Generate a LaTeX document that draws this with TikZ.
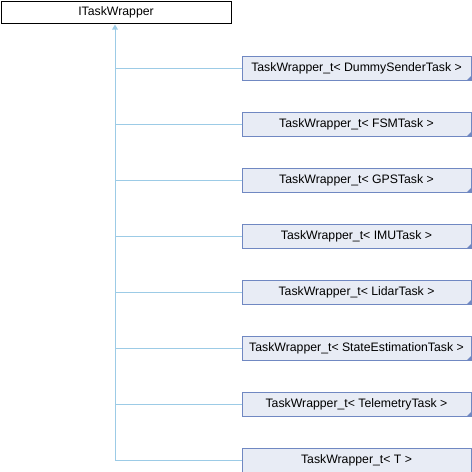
\documentclass[tikz,border=0pt]{standalone}
\usepackage{fontspec}
\setmainfont{Liberation Sans}
\definecolor{boxfill}{HTML}{E8ECF5}
\definecolor{boxline}{HTML}{7088C2}
\definecolor{edgecol}{HTML}{9CCBE6}
\begin{document}
\begin{tikzpicture}[x=0.75pt,y=-0.75pt,
  base/.style={draw=black,fill=white,line width=0.75pt,minimum width=230*0.75pt,minimum height=22.5*0.75pt,inner sep=0pt,font=\fontsize{9.2}{10}\selectfont,anchor=north west},
  child/.style={draw=boxline,fill=boxfill,line width=0.75pt,minimum width=229*0.75pt,minimum height=23.5*0.75pt,inner sep=0pt,font=\fontsize{9.2}{10}\selectfont,anchor=north west},
  edge/.style={draw=edgecol,line width=0.75pt},
  corner/.style={fill=boxline,draw=none}]
\useasboundingbox (0,0) rectangle (472,472);
\node[base] (root) at (0.5,0.5) {ITaskWrapper};
\foreach \i/\lab in {0/{TaskWrapper\_t< DummySenderTask >},1/{TaskWrapper\_t< FSMTask >},2/{TaskWrapper\_t< GPSTask >},3/{TaskWrapper\_t< IMUTask >},4/{TaskWrapper\_t< LidarTask >},5/{TaskWrapper\_t< StateEstimationTask >},6/{TaskWrapper\_t< TelemetryTask >},7/{TaskWrapper\_t< T >}}{
  \node[child] (c\i) at (241.5,56+56*\i) {\lab};
}
\foreach \i in {0,...,6}{
  \fill[corner] (c\i.south east) -- ++(0,-5) -- ++(-5,5) -- cycle;
}
\coordinate (trunk) at (root.south -| 115,0);
\coordinate (bend) at (115,459.75);
\draw[edge] (115,28) -- (bend);
\fill[edgecol] (root.south -| 115,0) ++(0,0.5) -- ++(3,5) -- ++(-6,0) -- cycle;
\foreach \i in {0,...,7}{
  \draw[edge] (c\i.west -| bend) -- (c\i.west);
}
\end{tikzpicture}
\end{document}
